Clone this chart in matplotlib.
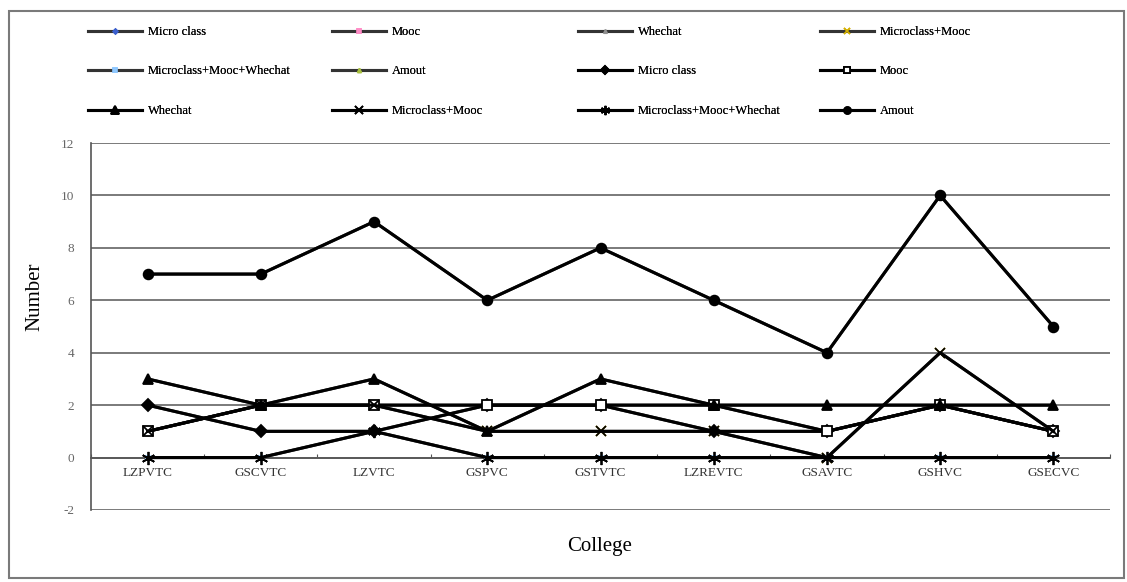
import matplotlib
matplotlib.use("Agg")
import matplotlib.pyplot as plt
from matplotlib.patches import Rectangle
import numpy as np

plt.rcParams['font.family'] = ['Liberation Serif', 'DejaVu Serif']
plt.rcParams['axes.unicode_minus'] = False

# ---- data ----
colleges = ['LZPVTC', 'GSCVTC', 'LZVTC', 'GSPVC', 'GSTVTC',
            'LZREVTC', 'GSAVTC', 'GSHVC', 'GSECVC']
micro_class = [2, 1, 1, 2, 2, 1, 1, 2, 1]
mooc = [1, 2, 2, 2, 2, 2, 1, 2, 1]
whechat = [3, 2, 3, 1, 3, 2, 2, 2, 2]
micro_mooc = [1, 2, 2, 1, 1, 1, 0, 4, 1]
micro_mooc_whechat = [0, 0, 1, 0, 0, 0, 0, 0, 0]
amount = [7, 7, 9, 6, 8, 6, 4, 10, 5]

names = ['Micro class', 'Mooc', 'Whechat', 'Microclass+Mooc',
         'Microclass+Mooc+Whechat', 'Amout']
series = [micro_class, mooc, whechat, micro_mooc, micro_mooc_whechat, amount]

W, H = 1127, 582
fig = plt.figure(figsize=(W / 100, H / 100), dpi=100)
ax = fig.add_axes([91 / W, 1 - 510 / H, (1110 - 91) / W, (510 - 143) / H])

x = np.arange(len(colleges))

# first set: coloured markers (mostly hidden under the black set)
col_markers = [('D', '#3a5fcd', 3.5), ('s', '#ff8cc6', 3.5), ('^', '#909090', 3.5),
               ('x', '#d4b000', 7), ('s', '#8fc8ff', 3.5), ('^', '#a8c040', 4)]
handles = []
for vals, name, (mk, mc, ms) in zip(series, names, col_markers):
    h, = ax.plot(x, vals, color='#333333', lw=2.2, marker=mk, ms=ms,
                 mfc=mc, mec=mc, mew=1.2, label=name, zorder=3)
    handles.append(h)

# second set: black Excel-style markers
blk_markers = [('D', 'black', 6), ('s', 'white', 7), ('^', 'black', 7.5),
               ('x', 'black', 7.5), ((6, 2, 0), 'black', 9.5), ('o', 'black', 7)]
for vals, name, (mk, fc, ms) in zip(series, names, blk_markers):
    h, = ax.plot(x, vals, color='black', lw=2.2, marker=mk, ms=ms,
                 mfc=fc, mec='black', mew=1.3, label=name, zorder=4)
    handles.append(h)

ax.set_xlim(-0.5, len(colleges) - 0.5)
ax.set_ylim(-2, 12)
ax.set_yticks(np.arange(-2, 13, 2))
ax.yaxis.grid(True, color='#7a7a7a', lw=1.4)
ax.set_axisbelow(True)

for s in ['top', 'right']:
    ax.spines[s].set_visible(False)
ax.spines['left'].set_color('#555555')
ax.spines['left'].set_linewidth(1.2)
ax.spines['bottom'].set_position(('data', 0))
ax.spines['bottom'].set_color('#555555')
ax.spines['bottom'].set_linewidth(1.2)

ax.set_xticks(np.arange(-0.5, len(colleges), 1))
ax.set_xticklabels([])
ax.set_xticks(x, minor=True)
ax.set_xticklabels(colleges, minor=True, fontsize=9.5, color='#333333')
ax.tick_params(axis='x', which='major', direction='in', length=3, color='#555555')
ax.tick_params(axis='x', which='minor', length=0, pad=7)
ax.tick_params(axis='y', length=0, labelsize=9.5, labelcolor='#666666', pad=12)

fig.text(35 / W, 1 - 297 / H, 'Number', rotation=90, fontsize=15,
         ha='center', va='center')
fig.text(600 / W, 1 - 547 / H, 'College', fontsize=15, ha='center', va='center')

# legend: 4 fixed columns, 3 rows
col_x = [88, 332, 578, 820]
for c in range(4):
    hs = [handles[c + 4 * r] for r in range(3)]
    leg = fig.legend(hs, [h.get_label() for h in hs], loc='upper left',
                     bbox_to_anchor=(col_x[c] / W, 1 - 26 / H),
                     frameon=False, fontsize=9, handlelength=4.3,
                     handletextpad=0.5, labelspacing=2.2, borderpad=0,
                     borderaxespad=0, markerscale=0.7)
    fig.add_artist(leg)

fig.patches.append(Rectangle((9 / W, 1 - 578 / H), (1124 - 9) / W, (578 - 11) / H,
                             transform=fig.transFigure, fill=False,
                             edgecolor='#7a7a7a', lw=1.5))

fig.savefig('out.png', dpi=100)
